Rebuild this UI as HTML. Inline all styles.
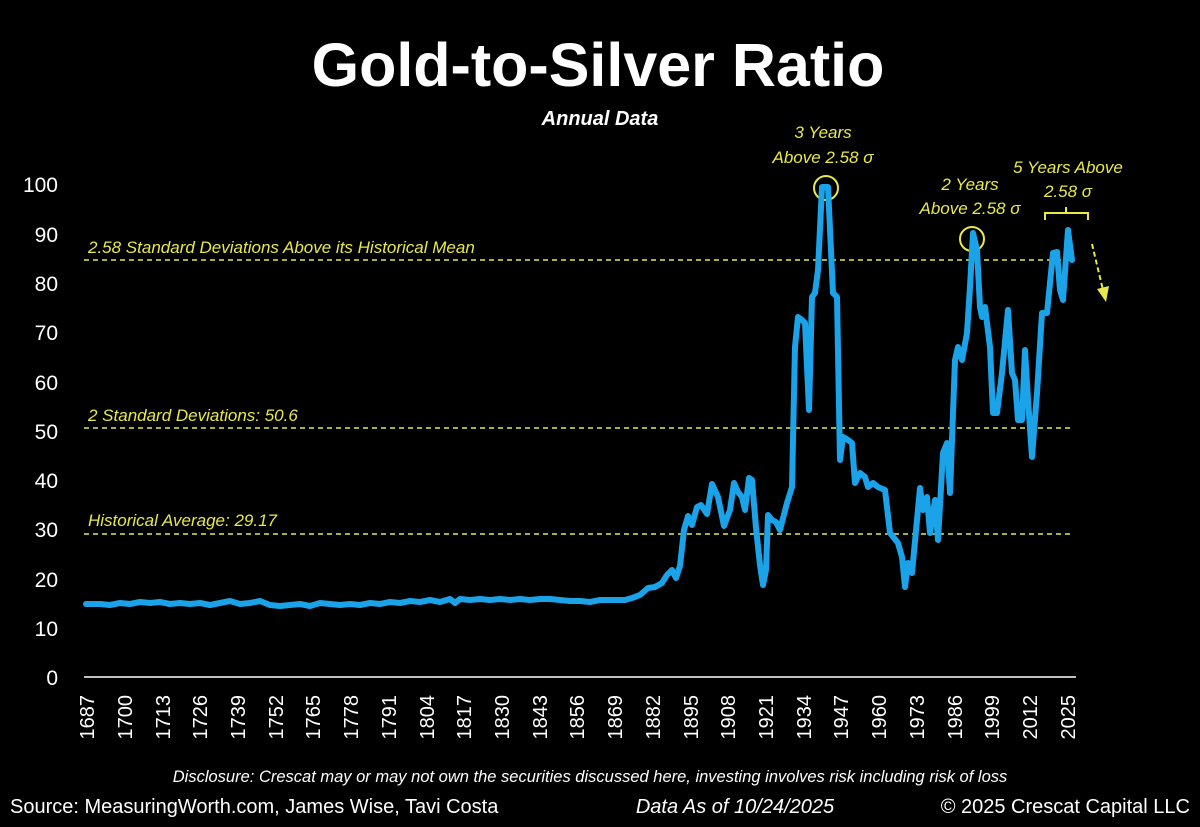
<!DOCTYPE html>
<html><head><meta charset="utf-8"><style>
html,body{margin:0;padding:0;background:#000;}
svg{display:block;}
</style></head><body>
<svg width="1200" height="827" viewBox="0 0 1200 827" xmlns="http://www.w3.org/2000/svg" font-family="Liberation Sans, sans-serif">
<rect width="1200" height="827" fill="#000"/>
<text x="598" y="86" fill="#fff" font-size="61" font-weight="bold" text-anchor="middle">Gold-to-Silver Ratio</text>
<text x="600" y="125" fill="#fff" font-size="20" font-weight="bold" font-style="italic" text-anchor="middle">Annual Data</text>
<g fill="#fff" font-size="21" text-anchor="end">
<text x="58" y="192">100</text><text x="58" y="242">90</text><text x="58" y="291">80</text><text x="58" y="340">70</text><text x="58" y="390">60</text><text x="58" y="439">50</text><text x="58" y="488">40</text><text x="58" y="537">30</text><text x="58" y="587">20</text><text x="58" y="636">10</text><text x="58" y="685">0</text>
</g>
<line x1="84" y1="677" x2="1076" y2="677" stroke="#fff" stroke-width="1.5"/>
<g fill="#fff" font-size="20" text-anchor="end">
<text transform="translate(94,695) rotate(-90)">1687</text>
<text transform="translate(132,695) rotate(-90)">1700</text>
<text transform="translate(170,695) rotate(-90)">1713</text>
<text transform="translate(207,695) rotate(-90)">1726</text>
<text transform="translate(245,695) rotate(-90)">1739</text>
<text transform="translate(283,695) rotate(-90)">1752</text>
<text transform="translate(320,695) rotate(-90)">1765</text>
<text transform="translate(358,695) rotate(-90)">1778</text>
<text transform="translate(396,695) rotate(-90)">1791</text>
<text transform="translate(434,695) rotate(-90)">1804</text>
<text transform="translate(471,695) rotate(-90)">1817</text>
<text transform="translate(509,695) rotate(-90)">1830</text>
<text transform="translate(547,695) rotate(-90)">1843</text>
<text transform="translate(584,695) rotate(-90)">1856</text>
<text transform="translate(622,695) rotate(-90)">1869</text>
<text transform="translate(660,695) rotate(-90)">1882</text>
<text transform="translate(698,695) rotate(-90)">1895</text>
<text transform="translate(735,695) rotate(-90)">1908</text>
<text transform="translate(773,695) rotate(-90)">1921</text>
<text transform="translate(811,695) rotate(-90)">1934</text>
<text transform="translate(848,695) rotate(-90)">1947</text>
<text transform="translate(886,695) rotate(-90)">1960</text>
<text transform="translate(924,695) rotate(-90)">1973</text>
<text transform="translate(962,695) rotate(-90)">1986</text>
<text transform="translate(999,695) rotate(-90)">1999</text>
<text transform="translate(1037,695) rotate(-90)">2012</text>
<text transform="translate(1075,695) rotate(-90)">2025</text>
</g>
<g stroke="#e8e84a" stroke-width="1.5" stroke-dasharray="5,4">
<line x1="84" y1="260" x2="1073" y2="260"/>
<line x1="84" y1="428" x2="1073" y2="428"/>
<line x1="84" y1="534" x2="1073" y2="534"/>
</g>
<g fill="#e8e84a" font-size="17" font-style="italic">
<text x="88" y="253">2.58 Standard Deviations Above its Historical Mean</text>
<text x="88" y="421">2 Standard Deviations: 50.6</text>
<text x="88" y="526">Historical Average: 29.17</text>
<text x="823" y="138" text-anchor="middle">3 Years</text>
<text x="823" y="163" text-anchor="middle">Above 2.58 σ</text>
<text x="970" y="190" text-anchor="middle">2 Years</text>
<text x="970" y="214" text-anchor="middle">Above 2.58 σ</text>
<text x="1068" y="173" text-anchor="middle">5 Years Above</text>
<text x="1068" y="197" text-anchor="middle">2.58 σ</text>
</g>
<g fill="none" stroke="#e8e84a" stroke-width="2">
<circle cx="826" cy="188" r="12"/>
<circle cx="972" cy="239" r="12"/>
<path d="M1045,220 V213 H1088 V220 M1066,213 V207"/>
<path d="M1092,244 L1103,290" stroke-dasharray="5,3"/>
</g>
<path d="M1097,289 L1106,302 L1109,286 Z" fill="#e8e84a"/>
<polyline fill="none" stroke="#1aa3e8" stroke-width="6" stroke-linejoin="round" stroke-linecap="round" points="
86,604 100,604 110,605 120,603 130,604 140,602 150,603 160,602 170,604 180,603 190,604 200,603 210,605 220,603 230,601 240,604 250,603 260,601 270,605 280,606 290,605 300,604 310,606 320,603 330,604 340,605 350,604 360,605 370,603 380,604 390,602 400,603 410,601 420,602 430,600 440,602 450,599 455,603 460,599 470,600 480,599 490,600 500,599 510,600 520,599 530,600 540,599 550,599 560,600 570,601 580,601 590,602 600,600 615,600 625,600 632,598 640,595 648,588 655,587 662,583 667,575 672,570 676,578 680,566 684,530 688,516 692,525 697,507 701,505 707,514 712,484 718,497 724,526 730,510 734,483 738,492 742,497 745,510 749,478 752,480 756,528 760,565 763,585 766,570 768,515 772,520 776,522 780,530 787,503 792,487 795,347 798,317 802,320 805,323 809,410 812,297 815,293 818,270 822,187 828,187 833,293 837,297 840,460 843,437 848,440 852,443 855,483 860,473 865,477 868,487 873,483 878,487 885,490 890,533 898,543 902,557 905,587 908,563 912,573 920,488 923,510 927,497 930,533 935,500 938,540 943,453 947,443 950,493 955,360 958,347 962,360 967,333 970,287 973,233 977,250 980,307 982,317 985,307 990,347 993,413 997,413 1002,373 1008,310 1012,373 1015,380 1018,420 1022,420 1025,350 1028,400 1032,457 1037,393 1042,313 1047,313 1053,253 1057,252 1060,290 1063,300 1068,230 1072,260"/>
<text x="590" y="782" fill="#fff" font-size="16.5" font-style="italic" text-anchor="middle">Disclosure: Crescat may or may not own the securities discussed here, investing involves risk including risk of loss</text>
<text x="10" y="813" fill="#fff" font-size="20">Source: MeasuringWorth.com, James Wise, Tavi Costa</text>
<text x="735" y="813" fill="#fff" font-size="20" font-style="italic" text-anchor="middle">Data As of 10/24/2025</text>
<text x="1190" y="813" fill="#fff" font-size="20" text-anchor="end">© 2025 Crescat Capital LLC</text>
</svg>
</body></html>
